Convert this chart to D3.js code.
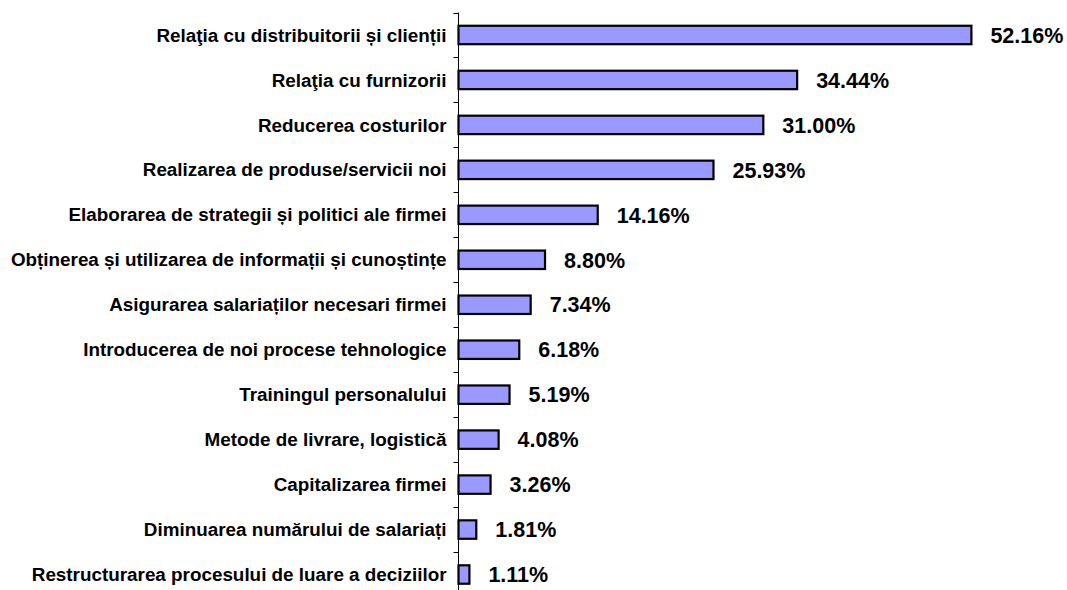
<!DOCTYPE html>
<html>
<head>
<meta charset="utf-8">
<script src="https://cdn.jsdelivr.net/npm/d3@7"></script>
<style>
  body { margin: 0; background: #fff; }
  svg { display: block; }
  text { font-family: "Liberation Sans", Arial, sans-serif; font-weight: bold; fill: #000; }
</style>
</head>
<body>
<svg id="chart" width="1067" height="590"></svg>
<script>
// categories top to bottom
var categories = [
  'Relaţia cu distribuitorii și clienții',
  'Relaţia cu furnizorii',
  'Reducerea costurilor',
  'Realizarea de produse/servicii noi',
  'Elaborarea de strategii și politici ale firmei',
  'Obținerea și utilizarea de informații și cunoștințe',
  'Asigurarea salariaților necesari firmei',
  'Introducerea de noi procese tehnologice',
  'Trainingul personalului',
  'Metode de livrare, logistică',
  'Capitalizarea firmei',
  'Diminuarea numărului de salariați',
  'Restructurarea procesului de luare a deciziilor'
];
var values = [52.16, 34.44, 31.00, 25.93, 14.16, 8.80, 7.34, 6.18, 5.19, 4.08, 3.26, 1.81, 1.11];
var valueLabels = ['52.16%', '34.44%', '31.00%', '25.93%', '14.16%', '8.80%', '7.34%', '6.18%',
  '5.19%', '4.08%', '3.26%', '1.81%', '1.11%'];

var svg = d3.select('#chart');
var axisX = 458.5;

var xScale = d3.scaleLinear()
  .domain([0, 60])
  .range([axisX, axisX + 590]);

// one band per row, no padding; bars take a fraction of it
var yScale = d3.scaleBand()
  .domain(categories)
  .range([12.5, 597])
  .padding(0);

var barFrac = 0.41;

// axis line and ticks between rows
var g = svg.append('g');
g.append('line')
  .attr('x1', axisX).attr('x2', axisX)
  .attr('y1', yScale.range()[0]).attr('y2', yScale.range()[1])
  .attr('stroke', '#000').attr('stroke-width', 1);

var tickYs = categories.map(function(c) { return yScale(c); });
tickYs.push(yScale.range()[1]);
g.selectAll('line.tick')
  .data(tickYs)
  .enter().append('line')
  .attr('class', 'tick')
  .attr('x1', axisX - 5).attr('x2', axisX)
  .attr('y1', function(d) { return Math.round(d) + 0.5; })
  .attr('y2', function(d) { return Math.round(d) + 0.5; })
  .attr('stroke', '#000').attr('stroke-width', 1);

var rows = categories.map(function(c, i) {
  return { key: c, value: values[i], label: valueLabels[i] };
});

var bh = yScale.bandwidth() * barFrac;

svg.selectAll('rect.bar')
  .data(rows)
  .enter().append('rect')
  .attr('class', 'bar')
  .attr('x', xScale(0))
  .attr('y', function(d) { return yScale(d.key) + (yScale.bandwidth() - bh) / 2; })
  .attr('width', function(d) { return xScale(d.value) - xScale(0); })
  .attr('height', bh)
  .attr('fill', '#9999FF')
  .attr('stroke', '#000')
  .attr('stroke-width', 2.2);

svg.selectAll('text.cat')
  .data(rows)
  .enter().append('text')
  .attr('class', 'cat')
  .attr('x', axisX - 12)
  .attr('y', function(d) { return yScale(d.key) + yScale.bandwidth() / 2; })
  .attr('dy', '0.35em')
  .attr('text-anchor', 'end')
  .style('font-size', '18.85px')
  .text(function(d) { return d.key; });

svg.selectAll('text.val')
  .data(rows)
  .enter().append('text')
  .attr('class', 'val')
  .attr('x', function(d) { return xScale(d.value) + 19; })
  .attr('y', function(d) { return yScale(d.key) + yScale.bandwidth() / 2; })
  .attr('dy', '0.36em')
  .style('font-size', '21.5px')
  .text(function(d) { return d.label; });
</script>
</body>
</html>
